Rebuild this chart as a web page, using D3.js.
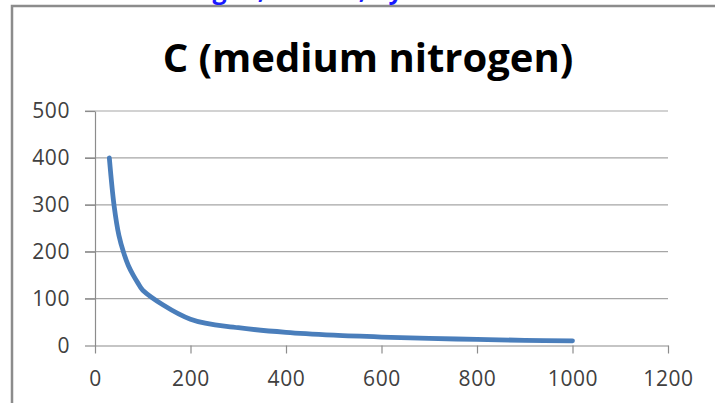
<!DOCTYPE html>
<html>
<head>
<meta charset="utf-8">
<script src="https://cdn.jsdelivr.net/npm/d3@7"></script>
<style>
  body { margin: 0; background: #fff; }
  svg { display: block; font-family: "Open Sans", "Liberation Sans", sans-serif; }
</style>
</head>
<body>
<svg id="chart" width="715" height="403"></svg>
<script>
// values
var xValues = [30, 40, 50, 60, 70, 80, 90, 100, 200, 300, 400, 500, 600, 700, 800, 900, 1000];
var yValues = [400, 298, 235, 198, 170, 150, 133, 118, 56, 38, 28, 22, 18, 15, 13, 11, 10];
var xTicks = [0, 200, 400, 600, 800, 1000, 1200];
var yTicks = [0, 100, 200, 300, 400, 500];
var title = "C (medium nitrogen)";

var svg = d3.select("#chart");

// outer frame of the chart object (runs off the right/bottom of the window)
svg.append("path")
	.attr("d", "M12,403 V6 H715")
	.attr("fill", "none")
	.attr("stroke", "#8c8c8c")
	.attr("stroke-width", 2.5);

// caption above the chart, cut off by the window edge as in the reference
svg.append("text")
	.attr("x", 350).attr("y", -1)
	.attr("text-anchor", "middle")
	.attr("fill", "#1a1aff")
	.attr("font-weight", "bold")
	.attr("font-size", 25)
	.text("Nitrogen, Nostoc, Cyanobacteria");

var plot = {left: 95, right: 668, top: 111, bottom: 345.5};

var x = d3.scaleLinear().domain([0, 1200]).range([plot.left, plot.right]);
var y = d3.scaleLinear().domain([0, 500]).range([plot.bottom, plot.top]);

// horizontal gridlines
svg.append("g")
	.selectAll("line")
	.data(yTicks.filter(function(d) { return d > 0; }))
	.enter().append("line")
		.attr("x1", plot.left - 10).attr("x2", plot.right)
		.attr("y1", function(d) { return y(d); })
		.attr("y2", function(d) { return y(d); })
		.attr("stroke", "#a6a6a6")
		.attr("stroke-width", 1.2);

var xAxis = svg.append("g")
	.attr("transform", "translate(0," + plot.bottom + ")")
	.call(d3.axisBottom(x).tickValues(xTicks).tickSize(8).tickSizeOuter(0).tickFormat(d3.format("d")));

var yAxis = svg.append("g")
	.attr("transform", "translate(" + plot.left + ",0)")
	.call(d3.axisLeft(y).tickValues(yTicks).tickSize(10).tickSizeOuter(0).tickPadding(15).tickFormat(d3.format("d")));

[xAxis, yAxis].forEach(function(a) {
	a.select(".domain").attr("stroke", "#8c8c8c").attr("stroke-width", 1.2);
	a.selectAll(".tick line").attr("stroke", "#8c8c8c").attr("stroke-width", 1.2);
	a.selectAll(".tick text")
		.attr("fill", "#404040")
		.attr("font-size", 21)
		.attr("letter-spacing", 0.6)
		.attr("font-family", "Open Sans, Liberation Sans, sans-serif");
});
xAxis.selectAll(".tick text").attr("y", 40).attr("dy", 0);

var pts = xValues.map(function(d, i) { return {x: d, y: yValues[i]}; });

var line = d3.line()
	.x(function(d) { return x(d.x); })
	.y(function(d) { return y(d.y); })
	.curve(d3.curveCatmullRom.alpha(0.5));

svg.append("path")
	.datum(pts)
	.attr("fill", "none")
	.attr("stroke", "#4a7ebb")
	.attr("stroke-width", 4.8)
	.attr("stroke-linecap", "round")
	.attr("stroke-linejoin", "round")
	.attr("d", line);

// title
svg.append("text")
	.attr("x", 368).attr("y", 72)
	.attr("text-anchor", "middle")
	.attr("font-weight", "bold")
	.attr("font-size", 40)
	.attr("fill", "#000")
	.text(title);
</script>
</body>
</html>
